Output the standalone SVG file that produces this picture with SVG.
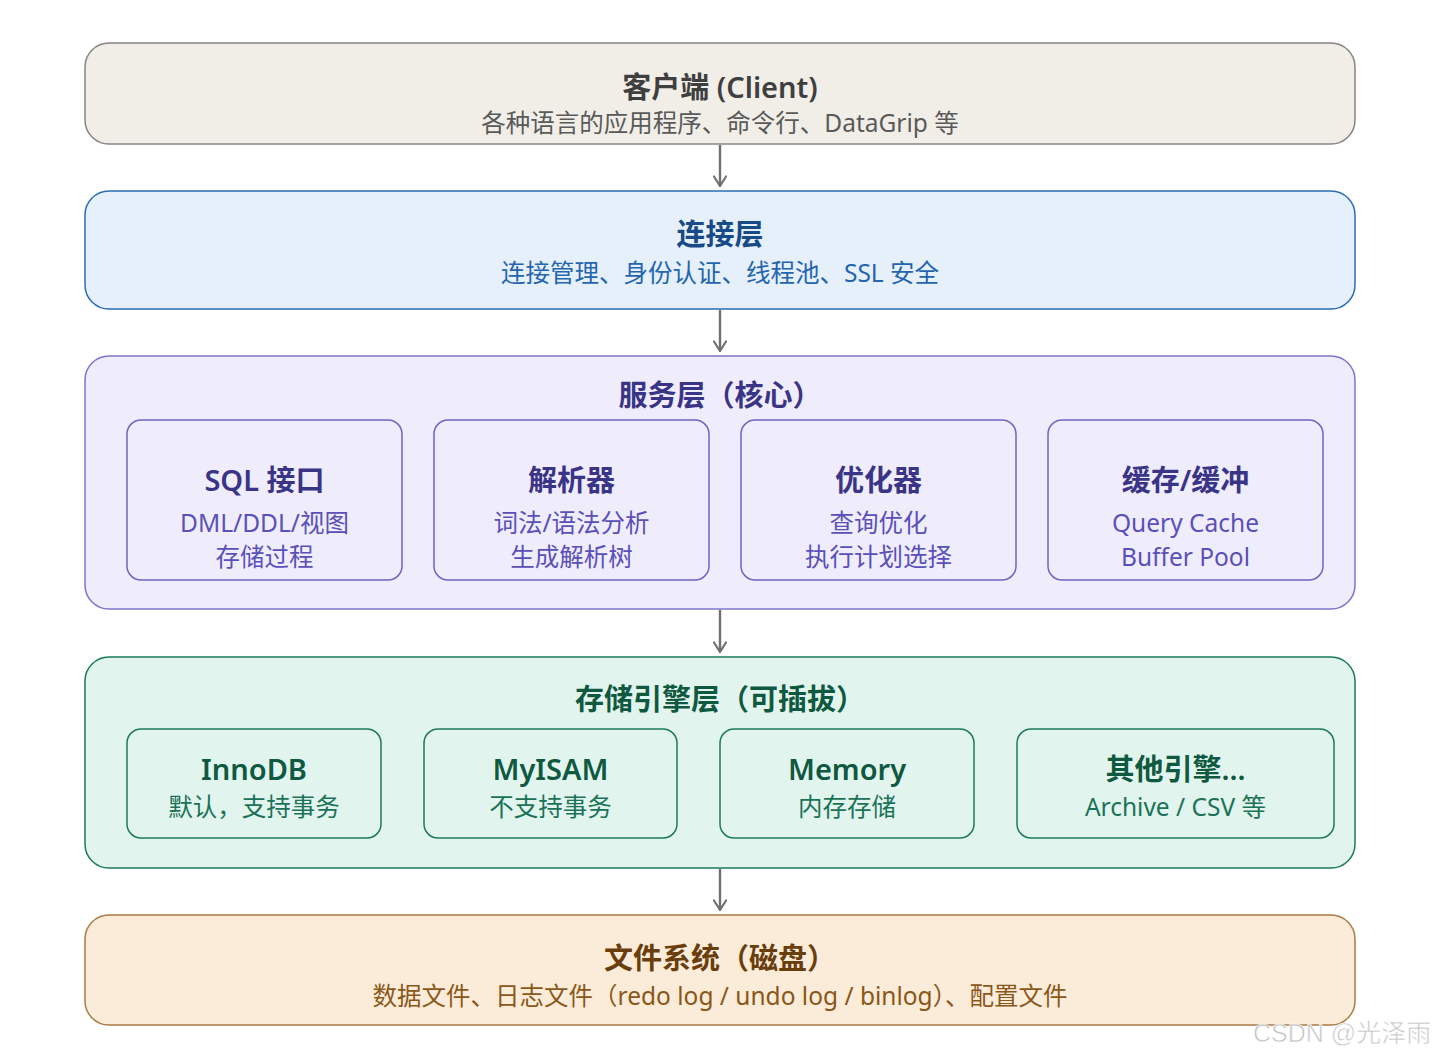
<svg xmlns="http://www.w3.org/2000/svg" width="1440" height="1058" viewBox="0 0 1440 1058">
<defs>
<marker id="ah" viewBox="0 0 14 14" refX="12" refY="7" markerWidth="14" markerHeight="14" markerUnits="userSpaceOnUse" orient="auto">
<polyline points="2.5,1 12,7 2.5,13" fill="none" stroke="#707070" stroke-width="2.2" stroke-linecap="round" stroke-linejoin="round"/>
</marker>
<style>
text{font-family:"Noto Sans","Noto Sans CJK SC",sans-serif;text-anchor:middle}
.t{font-size:29px;font-weight:600}
.s{font-size:24.5px}
.it{font-size:29px;font-weight:600}
.conn{stroke:#707070;stroke-width:2.4;fill:none}
</style>
</defs>
<rect width="1440" height="1058" fill="#ffffff"/>
<g id="connectors">
<line class="conn" x1="720" y1="145" x2="720" y2="186" marker-end="url(#ah)"/>
<line class="conn" x1="720" y1="310" x2="720" y2="351" marker-end="url(#ah)"/>
<line class="conn" x1="720" y1="610" x2="720" y2="652" marker-end="url(#ah)"/>
<line class="conn" x1="720" y1="869" x2="720" y2="910" marker-end="url(#ah)"/>
</g>
<g id="client">
<rect x="85" y="43" width="1270" height="101" rx="24" fill="#f1eee8" stroke="#858585" stroke-width="1.5"/>
<text class="t" x="720" y="98" fill="#3f3f3f">客户端 (Client)</text>
<text class="s" x="720" y="132" fill="#5a5a5a">各种语言的应用程序、命令行、DataGrip 等</text>
</g>
<g id="connection">
<rect x="85" y="191" width="1270" height="118" rx="24" fill="#e6f0fb" stroke="#2b6cb4" stroke-width="1.5"/>
<text class="t" x="720" y="245" fill="#174a86">连接层</text>
<text class="s" x="720" y="282" fill="#2465ad">连接管理、身份认证、线程池、SSL 安全</text>
</g>
<g id="service">
<rect x="85" y="356" width="1270" height="253" rx="24" fill="#efedfb" stroke="#7d75cc" stroke-width="1.5"/>
<text class="t" x="720" y="406" fill="#3a3487">服务层（核心）</text>
</g>
<g id="sql">
<rect x="127" y="420" width="275" height="160" rx="14" fill="#efedfb" stroke="#6e65c4" stroke-width="1.5"/>
<text class="it" x="264.5" y="491" fill="#3a3487">SQL 接口</text>
<text class="s" x="264.5" y="532" fill="#5a50b8">DML/DDL/视图</text>
<text class="s" x="264.5" y="566" fill="#5a50b8">存储过程</text>
</g>
<g id="parser">
<rect x="434" y="420" width="275" height="160" rx="14" fill="#efedfb" stroke="#6e65c4" stroke-width="1.5"/>
<text class="it" x="571.5" y="491" fill="#3a3487">解析器</text>
<text class="s" x="571.5" y="532" fill="#5a50b8">词法/语法分析</text>
<text class="s" x="571.5" y="566" fill="#5a50b8">生成解析树</text>
</g>
<g id="optimizer">
<rect x="741" y="420" width="275" height="160" rx="14" fill="#efedfb" stroke="#6e65c4" stroke-width="1.5"/>
<text class="it" x="878.5" y="491" fill="#3a3487">优化器</text>
<text class="s" x="878.5" y="532" fill="#5a50b8">查询优化</text>
<text class="s" x="878.5" y="566" fill="#5a50b8">执行计划选择</text>
</g>
<g id="cache">
<rect x="1048" y="420" width="275" height="160" rx="14" fill="#efedfb" stroke="#6e65c4" stroke-width="1.5"/>
<text class="it" x="1185.5" y="491" fill="#3a3487">缓存/缓冲</text>
<text class="s" x="1185.5" y="532" fill="#5a50b8">Query Cache</text>
<text class="s" x="1185.5" y="566" fill="#5a50b8">Buffer Pool</text>
</g>
<g id="storage">
<rect x="85" y="657" width="1270" height="211" rx="24" fill="#e2f4ee" stroke="#1c7a5a" stroke-width="1.5"/>
<text class="t" x="720" y="710" fill="#0f5940">存储引擎层（可插拔）</text>
</g>
<g id="innodb">
<rect x="127" y="729" width="254" height="109" rx="14" fill="#e2f4ee" stroke="#1c7a5a" stroke-width="1.5"/>
<text class="it" x="254" y="780" fill="#0f5940">InnoDB</text>
<text class="s" x="254" y="816" fill="#1a7356">默认，支持事务</text>
</g>
<g id="myisam">
<rect x="424" y="729" width="253" height="109" rx="14" fill="#e2f4ee" stroke="#1c7a5a" stroke-width="1.5"/>
<text class="it" x="550.5" y="780" fill="#0f5940">MyISAM</text>
<text class="s" x="550.5" y="816" fill="#1a7356">不支持事务</text>
</g>
<g id="memory">
<rect x="720" y="729" width="254" height="109" rx="14" fill="#e2f4ee" stroke="#1c7a5a" stroke-width="1.5"/>
<text class="it" x="847" y="780" fill="#0f5940">Memory</text>
<text class="s" x="847" y="816" fill="#1a7356">内存存储</text>
</g>
<g id="other">
<rect x="1017" y="729" width="317" height="109" rx="14" fill="#e2f4ee" stroke="#1c7a5a" stroke-width="1.5"/>
<text class="it" x="1175.5" y="780" fill="#0f5940">其他引擎...</text>
<text class="s" x="1175.5" y="816" fill="#1a7356">Archive / CSV 等</text>
</g>
<g id="filesystem">
<rect x="85" y="915" width="1270" height="110" rx="24" fill="#faecd9" stroke="#a97a45" stroke-width="1.5"/>
<text class="t" x="720" y="969" fill="#6a3e0c">文件系统（磁盘）</text>
<text class="s" x="720" y="1005" fill="#8a5718">数据文件、日志文件（redo log / undo log / binlog）、配置文件</text>
</g>
<text x="1253" y="1042" font-size="25" fill="#c4c4c4" stroke="#ffffff" stroke-width="0.6" style="font-family:'Liberation Sans','Noto Sans CJK SC',sans-serif;text-anchor:start">CSDN @光泽雨</text>
</svg>
